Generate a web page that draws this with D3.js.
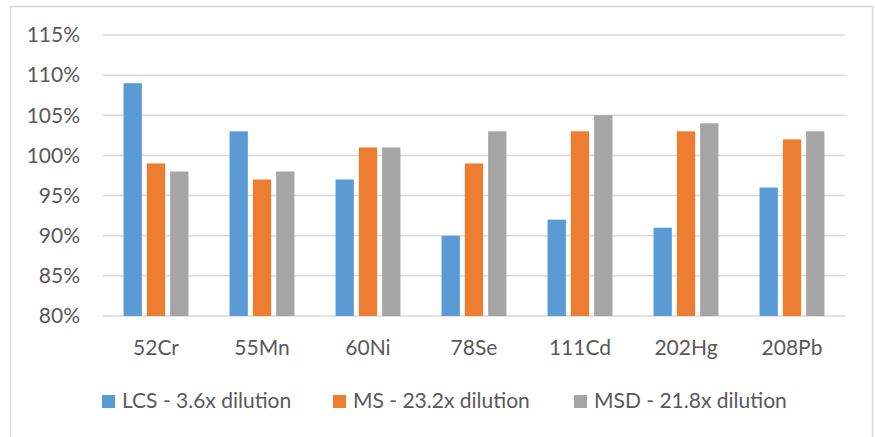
<!DOCTYPE html>
<html><head><meta charset="utf-8">
<script src="https://cdn.jsdelivr.net/npm/d3@7"></script>
<style>body{margin:0;background:#fff}svg{display:block}</style>
</head><body><svg id="c" width="875" height="437"></svg>
<script>
const categories = ["52Cr","55Mn","60Ni","78Se","111Cd","202Hg","208Pb"];
const seriesNames = ["LCS - 3.6x dilution","MS - 23.2x dilution","MSD - 21.8x dilution"];
const lcs = [109,103,97,90,92,91,96];
const ms  = [99,97,101,99,103,103,102];
const msd = [98,98,101,103,105,104,103];
const yTicks = [80,85,90,95,100,105,110,115];
const colors = ["#5B9BD5","#ED7D31","#A5A5A5"];
const seriesValues = [lcs, ms, msd];

const svg = d3.select("#c");
const font = "Lato, 'Liberation Sans', sans-serif";
const textColor = "#595959";

svg.append("rect").attr("x",10.5).attr("y",6.5).attr("width",862).attr("height",440)
  .attr("fill","#fff").attr("stroke","#D9D9D9").attr("stroke-width",1.5);

const x = d3.scaleBand().domain(categories).range([103,845]).paddingInner(0).paddingOuter(0);
const xs = d3.scaleBand().domain(seriesNames)
  .range([x.bandwidth()/2 - 32.45, x.bandwidth()/2 + 32.45]).paddingInner(0.215).paddingOuter(0);
const y = d3.scaleLinear().domain([80,115]).range([316,35]);

// gridlines
svg.append("g").selectAll("line").data(yTicks).join("line")
  .attr("x1",103).attr("x2",845).attr("y1",d=>y(d)).attr("y2",d=>y(d))
  .attr("stroke","#D9D9D9").attr("stroke-width",1.5);

// y axis labels
const yAxis = d3.axisLeft(y).tickValues(yTicks).tickFormat(d=>d+"%").tickSize(0).tickPadding(23);
const gy = svg.append("g").attr("transform","translate(103,0)").call(yAxis);
gy.select(".domain").remove();
gy.selectAll("text").attr("font-family",font).attr("font-size",21).attr("fill",textColor);

// bars
seriesValues.forEach((vals,si)=>{
  svg.append("g").selectAll("rect").data(vals).join("rect")
    .attr("x",(d,i)=>x(categories[i]) + xs(seriesNames[si]))
    .attr("width",xs.bandwidth())
    .attr("y",d=>y(d))
    .attr("height",d=>y(80)-y(d))
    .attr("fill",colors[si]);
});

// x axis
const xAxis = d3.axisBottom(x).tickSize(0).tickPadding(24);
const gx = svg.append("g").attr("transform","translate(0,316)").call(xAxis);
gx.select(".domain").remove();
gx.selectAll("text").attr("font-family",font).attr("font-size",21).attr("fill",textColor);

// legend
const legX = [102,333,574];
const leg = svg.append("g");
seriesNames.forEach((n,i)=>{
  leg.append("rect").attr("x",legX[i]).attr("y",395).attr("width",13).attr("height",13).attr("fill",colors[i]);
  leg.append("text").attr("x",legX[i]+20).attr("y",408).text(n)
    .attr("font-family",font).attr("font-size",21).attr("fill",textColor);
});
</script></body></html>
